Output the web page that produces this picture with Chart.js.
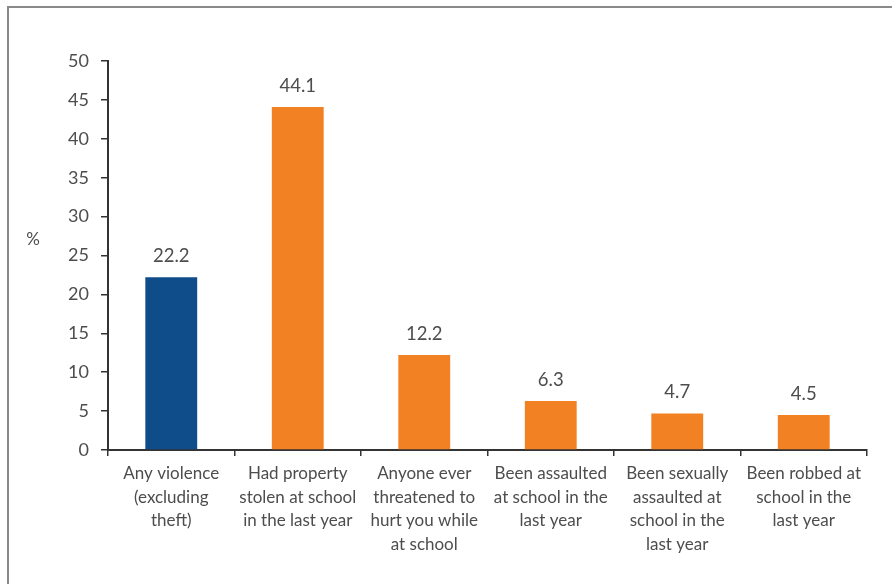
<!DOCTYPE html>
<html lang="en">
<head>
    <meta charset="UTF-8">
    <script src="https://cdn.jsdelivr.net/npm/chart.js"></script>
    <title>School victimisation</title>
    <style>
        body { margin: 0; background: #fff; }
        #frame { position: absolute; left: 7px; top: 6px; width: 900px; height: 600px; border: 2px solid #8a8a8a; }
        #wrap { position: absolute; left: 0; top: 0; width: 892px; height: 584px; }
    </style>
</head>
<body>
    <div id="frame"></div>
    <div id="wrap"><canvas id="chart"></canvas></div>

    <script>
        // categories and values
        const categories = [
            ['Any violence', '(excluding', 'theft)'],
            ['Had property', 'stolen at school', 'in the last year'],
            ['Anyone ever', 'threatened to', 'hurt you while', 'at school'],
            ['Been assaulted', 'at school in the', 'last year'],
            ['Been sexually', 'assaulted at', 'school in the', 'last year'],
            ['Been robbed at', 'school in the', 'last year']
        ];
        const percentages = [22.2, 44.1, 12.2, 6.3, 4.7, 4.5];
        const barColours = ['#0f4c8a', '#f28124', '#f28124', '#f28124', '#f28124', '#f28124'];
        const yTicks = [0, 5, 10, 15, 20, 25, 30, 35, 40, 45, 50];

        const FONT = 'Lato, "Open Sans", sans-serif';
        const TEXT = '#4d4d4d';

        // value labels above the bars and the "%" axis caption
        const labelsPlugin = {
            id: 'labels',
            afterDatasetsDraw(chart) {
                const ctx = chart.ctx;
                const meta = chart.getDatasetMeta(0);
                ctx.save();
                ctx.font = '18.5px ' + FONT;
                ctx.fillStyle = TEXT;
                ctx.textAlign = 'center';
                ctx.textBaseline = 'alphabetic';
                meta.data.forEach((bar, i) => {
                    ctx.fillText(percentages[i].toFixed(1), bar.x, bar.y - 15);
                });
                ctx.font = '17px ' + FONT;
                ctx.textBaseline = 'middle';
                const yScale = chart.scales.y;
                ctx.fillText('%', chart.chartArea.left - 75, yScale.getPixelForValue(27));
                ctx.restore();
            }
        };

        new Chart(document.getElementById('chart'), {
            type: 'bar',
            data: {
                labels: categories,
                datasets: [{
                    data: percentages,
                    backgroundColor: barColours,
                    barPercentage: 0.41,
                    categoryPercentage: 1
                }]
            },
            options: {
                responsive: true,
                maintainAspectRatio: false,
                animation: false,
                layout: { padding: { top: 61, right: 25, left: 0, bottom: 0 } },
                plugins: { legend: { display: false }, tooltip: { enabled: false } },
                scales: {
                    y: {
                        min: 0,
                        max: 50,
                        afterBuildTicks: (axis) => { axis.ticks = yTicks.map(v => ({ value: v })); },
                        afterFit: (axis) => { axis.width = 108; },
                        border: { color: '#333', width: 2 },
                        grid: { drawOnChartArea: false, tickLength: 7, color: '#333', lineWidth: 1.5 },
                        ticks: { color: TEXT, font: { family: FONT, size: 18 }, padding: 12 }
                    },
                    x: {
                        afterFit: (axis) => { axis.height = 134; },
                        border: { color: '#333', width: 2 },
                        grid: { drawOnChartArea: false, tickLength: 6, color: '#333', lineWidth: 1.5, offset: true },
                        ticks: {
                            color: TEXT,
                            font: { family: FONT, size: 17, lineHeight: 1.38 },
                            padding: 6,
                            maxRotation: 0,
                            autoSkip: false
                        }
                    }
                }
            },
            plugins: [labelsPlugin]
        });
    </script>
</body>
</html>
